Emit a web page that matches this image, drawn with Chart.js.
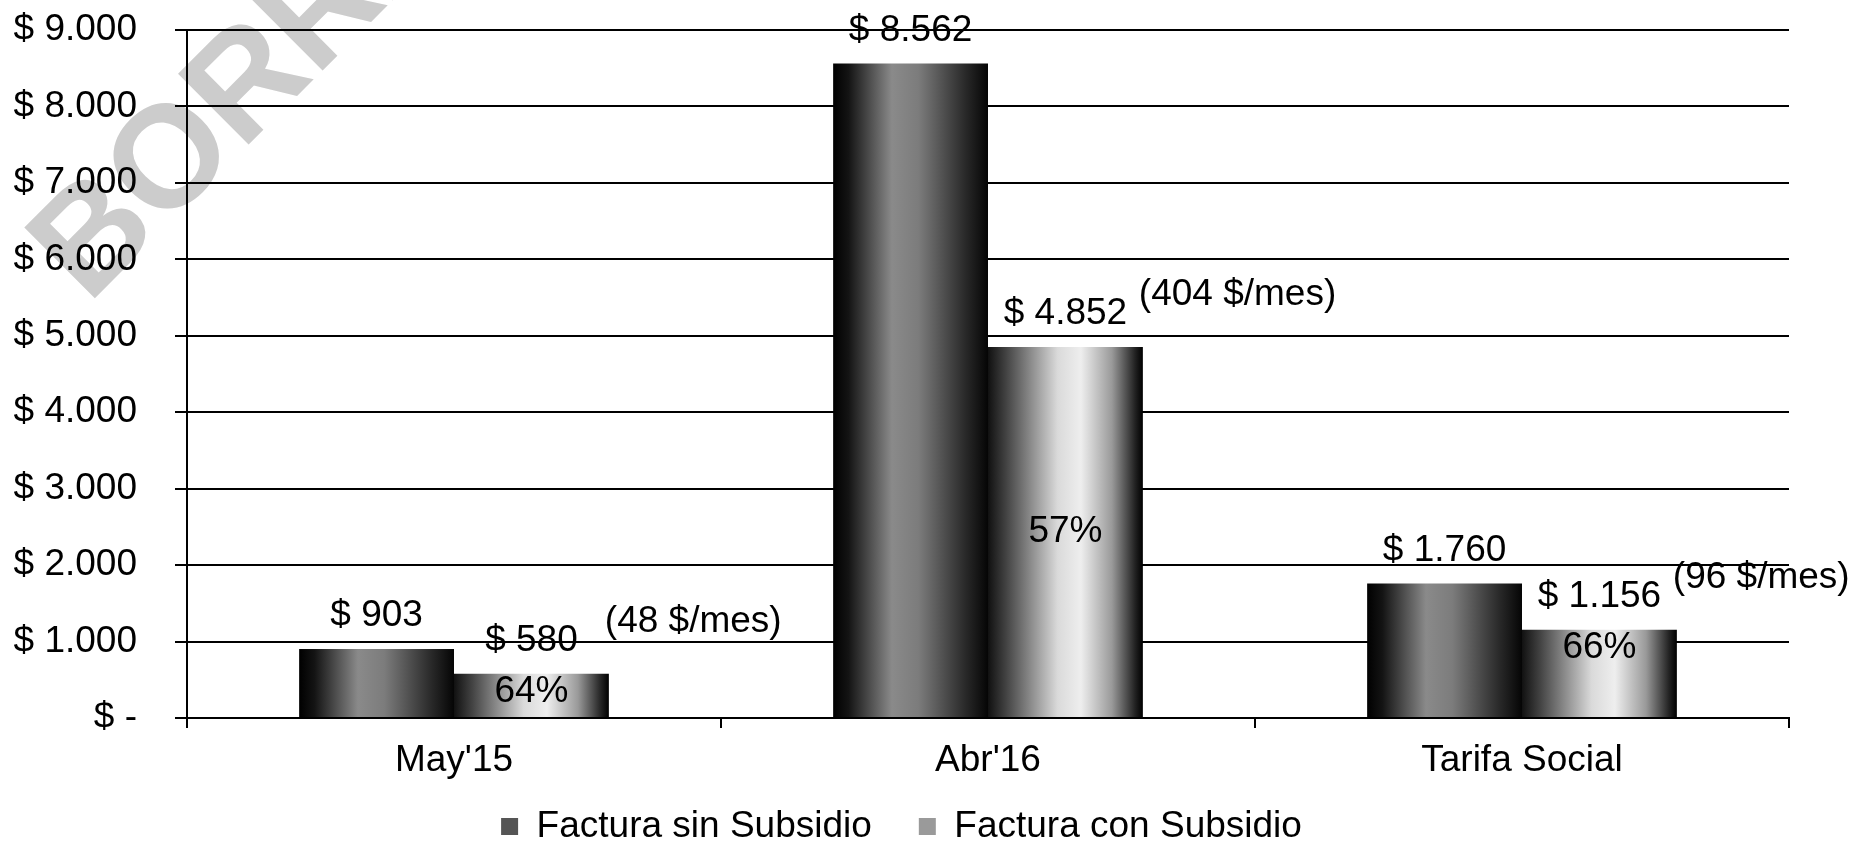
<!DOCTYPE html>
<html>
<head>
<meta charset="utf-8">
<script src="https://cdn.jsdelivr.net/npm/chart.js@4.4.1/dist/chart.umd.min.js"></script>
<style>
  html, body { margin: 0; padding: 0; background: #fff; }
  canvas { display: block; }
</style>
</head>
<body>
<canvas id="facturaChart" width="1864" height="851"></canvas>
<script>
// datos
var categories = ["May'15", "Abr'16", "Tarifa Social"];
var sinSubsidio = [903, 8562, 1760];
var conSubsidio = [580, 4852, 1156];
var pctLabels = ['64%', '57%', '66%'];
var monthlyLabels = ['(48 $/mes)', '(404 $/mes)', '(96 $/mes)'];
var yTickLabels = ['$ -', '$ 1.000', '$ 2.000', '$ 3.000', '$ 4.000', '$ 5.000', '$ 6.000', '$ 7.000', '$ 8.000', '$ 9.000'];
var seriesNames = ['Factura sin Subsidio', 'Factura con Subsidio'];

var FONT = '"Liberation Sans", Arial, sans-serif';
var CAT_PCT = 0.58;
var legendFills = ['#555555', '#9a9a9a'];

function fmt(v) {
  return '$ ' + String(v).replace(/\B(?=(\d{3})+(?!\d))/g, '.');
}

// degradado tipo cilindro para cada barra
function barFill(stops, solid) {
  return function(ctx) {
    var chart = ctx.chart;
    var xs = chart.scales.x;
    if (ctx.type !== 'data' || !xs) return solid;
    var center = xs.getPixelForValue(ctx.dataIndex);
    var barW = (xs.width / categories.length) * CAT_PCT / 2;
    if (!isFinite(center) || !isFinite(barW) || barW <= 0) return solid;
    var left = ctx.datasetIndex === 0 ? center - barW : center;
    var g = chart.ctx.createLinearGradient(left, 0, left + barW, 0);
    stops.forEach(function(s) { g.addColorStop(s[0], s[1]); });
    return g;
  };
}

var darkStops = [[0, '#000'], [0.1, '#141414'], [0.38, '#8a8a8a'], [0.55, '#7c7c7c'], [0.85, '#2a2a2a'], [1, '#050505']];
var lightStops = [[0, '#111'], [0.12, '#444'], [0.45, '#dadada'], [0.6, '#eeeeee'], [0.8, '#9a9a9a'], [0.95, '#222'], [1, '#000']];

var watermark = {
  id: 'watermark',
  beforeDraw: function(chart) {
    var ctx = chart.ctx;
    ctx.save();
    ctx.translate(88, 305);
    ctx.rotate(-Math.PI / 4);
    ctx.font = 'bold 145px ' + FONT;
    ctx.fillStyle = '#cccccc';
    ctx.textAlign = 'left';
    ctx.textBaseline = 'alphabetic';
    ctx.fillText('BORRADOR', 0, 0);
    ctx.restore();
  }
};

var barLabels = {
  id: 'barLabels',
  afterDatasetsDraw: function(chart) {
    var ctx = chart.ctx;
    ctx.save();
    ctx.font = '37px ' + FONT;
    ctx.fillStyle = '#000';
    ctx.textBaseline = 'middle';
    chart.data.datasets.forEach(function(ds, di) {
      chart.getDatasetMeta(di).data.forEach(function(bar, i) {
        ctx.textAlign = 'center';
        ctx.fillText(fmt(ds.data[i]), bar.x, bar.y - 33);
        if (di === 1) {
          var h = bar.base - bar.y;
          ctx.fillText(pctLabels[i], bar.x, h > 200 ? (bar.y + bar.base) / 2 : bar.y + 18);
          ctx.textAlign = 'left';
          ctx.fillText(monthlyLabels[i], bar.x + bar.width / 2 - 4, bar.y - 52);
        }
      });
    });
    ctx.restore();
  }
};

var ctx = document.getElementById('facturaChart').getContext('2d');
var facturaChart = new Chart(ctx, {
  type: 'bar',
  data: {
    labels: categories,
    datasets: [{
      label: seriesNames[0],
      data: sinSubsidio,
      backgroundColor: barFill(darkStops, legendFills[0]),
      borderWidth: 0,
      categoryPercentage: CAT_PCT,
      barPercentage: 1
    }, {
      label: seriesNames[1],
      data: conSubsidio,
      backgroundColor: barFill(lightStops, legendFills[1]),
      borderWidth: 0,
      categoryPercentage: CAT_PCT,
      barPercentage: 1
    }]
  },
  options: {
    responsive: false,
    devicePixelRatio: 1,
    animation: false,
    events: [],
    layout: { padding: { top: 30, left: 14, right: 75, bottom: 0 } },
    plugins: {
      tooltip: { enabled: false },
      legend: {
        position: 'bottom',
        maxHeight: 53,
        labels: {
          color: '#000',
          font: { family: FONT, size: 37 },
          boxWidth: 17,
          boxHeight: 17,
          padding: 10,
          generateLabels: function(chart) {
            var items = Chart.defaults.plugins.legend.labels.generateLabels(chart);
            items.forEach(function(item, i) {
              item.fillStyle = legendFills[i];
              item.strokeStyle = legendFills[i];
              item.lineWidth = 0;
              // separacion entre items como en el original
              if (i < items.length - 1) item.text = item.text + '\u2002\u2002';
            });
            return items;
          }
        }
      }
    },
    scales: {
      x: {
        afterFit: function(scale) {
          scale.height = 80;
          scale.paddingLeft = 0;
          scale.paddingRight = 0;
        },
        grid: {
          drawOnChartArea: false,
          drawTicks: true,
          tickLength: 10,
          color: '#000',
          lineWidth: 2
        },
        border: { display: true, color: '#000', width: 2 },
        ticks: {
          color: '#000',
          padding: 11,
          font: { family: FONT, size: 37 }
        }
      },
      y: {
        min: 0,
        max: 9000,
        afterFit: function(scale) {
          scale.width = 173;
          scale.paddingTop = 0;
          scale.paddingBottom = 0;
        },
        grid: {
          color: '#000',
          lineWidth: 2,
          drawTicks: true,
          tickLength: 12
        },
        border: { display: true, color: '#000', width: 2 },
        ticks: {
          stepSize: 1000,
          color: '#000',
          padding: 38,
          font: { family: FONT, size: 37 },
          callback: function(value, index) { return yTickLabels[index]; }
        }
      }
    }
  },
  plugins: [watermark, barLabels]
});
</script>
</body>
</html>
